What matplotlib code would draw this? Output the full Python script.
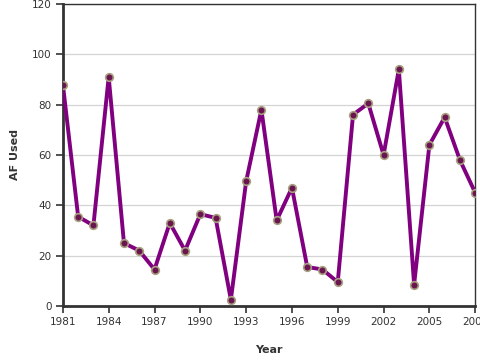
import matplotlib
matplotlib.use('Agg')
import matplotlib.pyplot as plt

years = [1981, 1982, 1983, 1984, 1985, 1986, 1987, 1988, 1989, 1990,
         1991, 1992, 1993, 1994, 1995, 1996, 1997, 1998, 1999, 2000,
         2001, 2002, 2003, 2004, 2005, 2006, 2007, 2008]
af_used = [88, 35.5, 32, 91, 25, 22, 14.5, 33, 22, 36.5,
           35, 2.5, 49.5, 78, 34, 47, 15.5, 14.5, 9.5, 76,
           80.5, 60, 94, 8.5, 64, 75, 58, 45]
xticks = [1981, 1984, 1987, 1990, 1993, 1996, 1999, 2002, 2005, 2008]
yticks = [0, 20, 40, 60, 80, 100, 120]

fig = plt.figure(figsize=(4.8, 3.6), dpi=100)
ax = fig.add_axes([0.131, 0.15, 0.859, 0.839])

ax.plot(years, af_used, color='#800080', linewidth=2.8, zorder=3,
        marker='o', markersize=5.5, markerfacecolor='#6a1450',
        markeredgecolor='#a8a080', markeredgewidth=1.2)

ax.set_xlim(1981, 2008)
ax.set_ylim(0, 120)
ax.set_xticks(xticks)
ax.set_yticks(yticks)
ax.grid(axis='y', color='#d4d4d4', linewidth=0.9)
ax.set_axisbelow(True)

for side in ['left', 'bottom']:
    ax.spines[side].set_linewidth(2)
    ax.spines[side].set_color('#333333')
for side in ['top', 'right']:
    ax.spines[side].set_linewidth(1)
    ax.spines[side].set_color('#333333')

ax.tick_params(axis='both', direction='out', length=5, width=1.2,
               color='#333333', labelsize=7.5, labelcolor='#333333', pad=3)

ax.set_xlabel('Year', fontsize=8, fontweight='bold', color='#333333', labelpad=13)
ax.set_ylabel('AF Used', fontsize=8, fontweight='bold', color='#333333', labelpad=9)

fig.savefig('out.png', dpi=100)
